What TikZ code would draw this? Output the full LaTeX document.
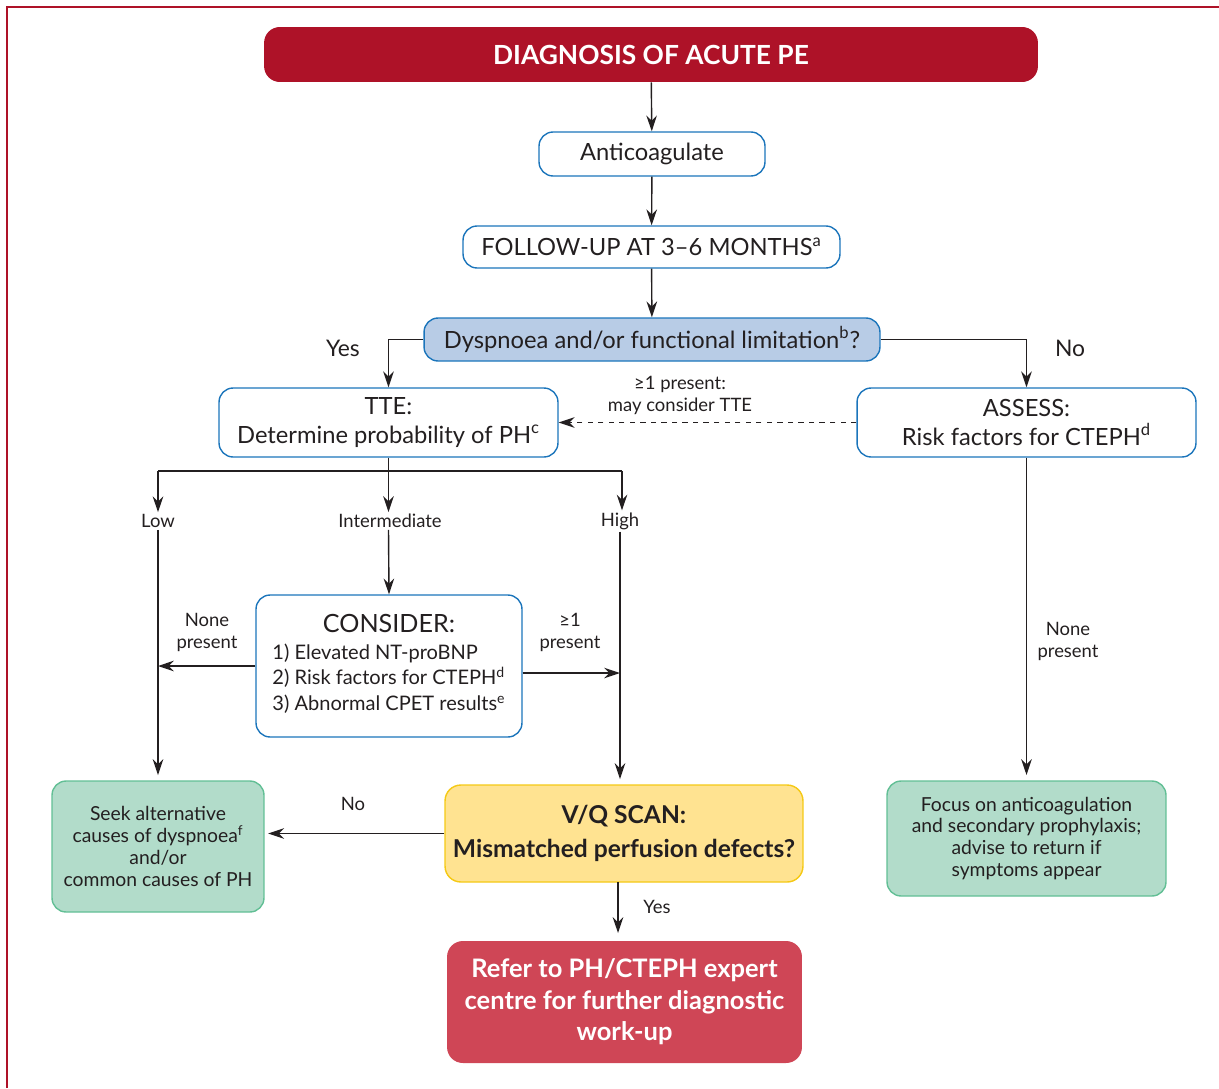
\documentclass[tikz,border=0pt]{standalone}
\usepackage{fontspec}
\setmainfont{Lato}
\usepackage{xcolor}
\usepackage{tikz}
\usetikzlibrary{arrows.meta}

\definecolor{pered}{HTML}{AE1228}
\definecolor{boxblue}{HTML}{1B75BB}
\definecolor{qblue}{HTML}{B8CCE6}
\definecolor{leafgreen}{HTML}{B2DCCA}
\definecolor{leafedge}{HTML}{62BF95}
\definecolor{scanyellow}{HTML}{FFE391}
\definecolor{scanedge}{HTML}{F5C915}
\definecolor{referred}{HTML}{CF4656}
\definecolor{ink}{HTML}{231F20}

\begin{document}
\begin{tikzpicture}[x=0.02cm, y=-0.02cm,
  box/.style={draw=boxblue, line width=0.8pt, rounded corners=8pt, fill=white,
    inner sep=0pt, align=center, text=ink, font=\fontsize{13.5}{16}\selectfont},
  leaf/.style={draw=leafedge, line width=0.8pt, rounded corners=8pt, fill=leafgreen,
    inner sep=0pt, align=center, text=ink, font=\fontsize{11}{12.5}\selectfont},
  lbl/.style={align=center, text=ink, inner sep=1pt, font=\fontsize{10.5}{12.5}\selectfont},
  arr/.style={-{Stealth[length=9pt,width=6pt]}, draw=ink, line width=0.8pt},
  line/.style={draw=ink, line width=0.8pt}]
  \useasboundingbox (0,0) rectangle (1219,1088);
  \draw[pered, line width=1.3pt] (7,1088) -- (7,7) -- (1219,7);

  % main column
  \node[fill=pered, rounded corners=9pt, minimum width=15.48cm, minimum height=1.10cm,
    text=white, font=\bfseries\fontsize{15}{17}\selectfont] (diag) at (651,54.5) {DIAGNOSIS OF ACUTE PE};
  \node[box, minimum width=4.52cm, minimum height=0.88cm] (anticoag) at (652,154) {Anticoagulate};
  \node[box, minimum width=7.54cm, minimum height=0.84cm] (followup) at (651.5,247)
    {FOLLOW-UP AT 3--6 MONTHS\textsuperscript{a}};
  \node[box, fill=qblue, minimum width=9.12cm, minimum height=0.86cm] (dysp) at (652,339.5)
    {Dyspnoea and/or functional limitation\textsuperscript{b}?};

  \draw[arr] (diag) -- (anticoag);
  \draw[arr] (anticoag) -- (followup);
  \draw[arr] (followup) -- (dysp);

  % yes / no split
  \node[box, minimum width=6.78cm, minimum height=1.38cm] (tte) at (388.5,422.5)
    {TTE:\\Determine probability of PH\textsuperscript{c}};
  \node[box, minimum width=6.78cm, minimum height=1.38cm] (assess) at (1026.5,422.5)
    {ASSESS:\\Risk factors for CTEPH\textsuperscript{d}};
  \draw[arr] (dysp.west) -| (tte.north);
  \draw[arr] (dysp.east) -| (assess.north);
  \node[lbl, font=\fontsize{13}{15}\selectfont] (yes) at (343,348) {Yes};
  \node[lbl, font=\fontsize{13}{15}\selectfont] (no) at (1070,348) {No};
  \draw[arr, dashed] (assess.west) -- (tte.east);
  \node[lbl] (maytte) at (680,395) {≥1 present:\\may consider TTE};

  % probability of PH
  \coordinate (split) at (388.5,471);
  \coordinate (lowtop) at (158,471);
  \coordinate (hightop) at (622,471);
  \node[lbl] (low) at (158,521) {Low};
  \node[lbl] (inter) at (390,521) {Intermediate};
  \node[lbl] (high) at (620,521) {High};
  \draw[line] (tte.south) -- (split);
  \draw[line] (lowtop) -- (hightop);
  \draw[arr] (lowtop) -- (lowtop |- low.north);
  \draw[arr] (split) -- (split |- inter.north);
  \draw[arr] (hightop) -- (hightop |- high.north);

  \node[box, minimum width=5.32cm, minimum height=2.84cm] (consider) at (389,666)
    {{\fontsize{14.3}{18}\selectfont CONSIDER:}\\[4pt]
     {\fontsize{11.4}{14.5}\selectfont\begin{tabular}{@{}l@{}}1) Elevated NT-proBNP\\
     2) Risk factors for CTEPH\textsuperscript{d}\\
     3) Abnormal CPET results\textsuperscript{e}\end{tabular}}};
  \draw[arr] (split |- inter.south) -- (consider.north);

  \node[leaf, minimum width=4.24cm, minimum height=2.62cm] (seek) at (158,846.5)
    {Seek alternative\\causes of dyspnoea\textsuperscript{f}\\and/or\\common causes of PH};
  \node[draw=scanedge, line width=0.8pt, rounded corners=9pt, fill=scanyellow, inner sep=0pt,
    align=center, text=ink, minimum width=7.16cm, minimum height=1.94cm,
    font=\bfseries\fontsize{14}{19}\selectfont] (vq) at (624,833.5)
    {V/Q SCAN:\\Mismatched perfusion defects?};
  \node[fill=referred, rounded corners=9pt, inner sep=0pt, align=center, text=white,
    minimum width=7.10cm, minimum height=2.44cm, font=\bfseries\fontsize{14.5}{18}\selectfont]
    (refer) at (624.5,1002) {Refer to PH/CTEPH expert\\centre for further diagnostic\\work-up};

  \draw[arr] (low.south) -- ([yshift=3pt]low.south |- seek.north);
  \draw[arr] (high.south) -- ([yshift=3pt]high.south |- vq.north);
  \draw[arr] ([yshift=0pt]consider.west) -- (consider.west -| low.south);
  \node[lbl] (nonel) at (207,632) {None\\present};
  \draw[arr] ([yshift=-4pt]consider.east) -- ([yshift=-4pt]consider.east -| high.south);
  \node[lbl] (onep) at (570,632) {≥1\\present};

  \draw[arr] (vq.west) -- ([xshift=2pt]vq.west -| seek.east);
  \node[lbl] (vqno) at (353,804) {No};
  \draw[arr] (618,882) -- (618,933);
  \node[lbl] (vqyes) at (657,907) {Yes};

  % assess column
  \node[leaf, minimum width=5.58cm, minimum height=2.30cm] (focus) at (1026.5,838.5)
    {Focus on anticoagulation\\and secondary prophylaxis;\\advise to return if\\symptoms appear};
  \draw[arr] (assess.south) -- ([yshift=3pt]focus.north);
  \node[lbl] (noner) at (1068,641) {None\\present};
\end{tikzpicture}
\end{document}
